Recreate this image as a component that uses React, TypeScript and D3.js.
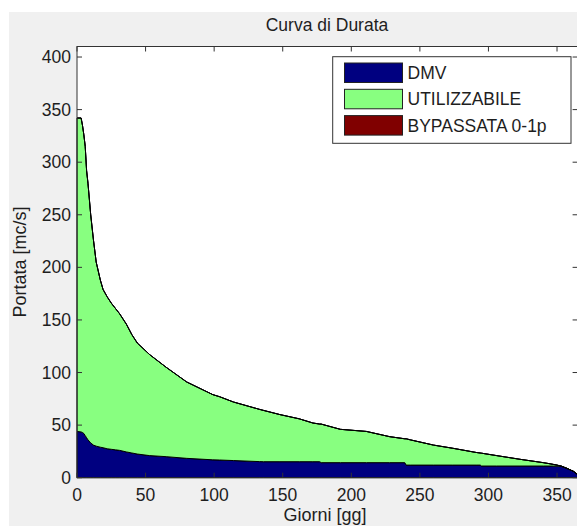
import React from 'react';
import * as d3 from 'd3';

// giorni della curva di durata
const giorni = [0, 3, 4, 5, 6, 7, 8, 10, 12, 14, 17, 19, 22, 25, 28, 31, 36, 40, 44, 53, 65, 80, 99, 104, 114, 133, 136, 148, 162, 172, 177, 178, 192, 211, 228, 239, 240, 243, 260, 274, 291, 294, 295, 306, 323, 340, 345, 350, 353, 357, 362, 365];

const dmv = [44, 43.5, 43, 42, 40, 38, 36, 33, 31, 30, 29, 28.5, 27.5, 27, 26.5, 26, 24.5, 23.5, 22.5, 21, 20, 18.4, 17, 16.8, 16.3, 15.3, 15.2, 15.2, 15.2, 15.2, 15.2, 14.3, 14.3, 14.3, 14.3, 14.3, 12, 12, 12, 12, 12, 12, 11.1, 11.1, 11.1, 11.1, 11.1, 11, 11, 9, 6, 3];

const utilizzabile = [298, 298.5, 292, 284, 275, 254, 244, 217, 195, 175, 159, 150.5, 144.5, 139, 134.5, 130, 121.5, 112.5, 105.5, 96, 85, 72.6, 62, 60.2, 55.7, 49.7, 48.8, 44.8, 40.8, 36.8, 35.8, 36.7, 31.7, 29.7, 24.7, 22.7, 25, 24, 19, 16, 12, 11.5, 12.2, 9.9, 6.4, 3.2, 2.1, 1, 0, 0, 0, 0];

const bypassata = giorni.map(() => 0);

const serie = ['DMV', 'UTILIZZABILE', 'BYPASSATA 0-1p'];
const colori = ['#000080', '#88ff80', '#800000'];

const xTicks = [0, 50, 100, 150, 200, 250, 300, 350];
const yTicks = [0, 50, 100, 150, 200, 250, 300, 350, 400];

const W = 577;
const H = 526;
const FONT = '"Liberation Sans", Arial, sans-serif';
const TXT = '#1e1e1e';
const AX = '#333';

export default function App() {
    const margin = { left: 77, top: 46.5, right: 577.6, bottom: 477.7 };

    const x = d3.scaleLinear().domain([0, 365]).range([margin.left, margin.right]);
    const y = d3.scaleLinear().domain([0, 410]).range([margin.bottom, margin.top]);

    const table = giorni.map((g, i) => ({
        giorno: g,
        'DMV': dmv[i],
        'UTILIZZABILE': utilizzabile[i],
        'BYPASSATA 0-1p': bypassata[i],
    }));

    const stacked = d3.stack<any>().keys(serie)(table);

    const area = d3.area<any>()
        .x(d => x(d.data.giorno))
        .y0(d => y(d[0]))
        .y1(d => y(d[1]));

    const tickLen = 5;

    return (
        <div style={{ position: 'absolute', left: 0, top: 0 }}>
            <svg width={W} height={H} style={{ display: 'block' }}>
                <rect x={0} y={0} width={W} height={H} fill="#fff" />
                <rect x={9} y={12} width={W - 9} height={H - 12} fill="#f0f0f0" />

                <rect x={margin.left} y={margin.top} width={margin.right - margin.left}
                    height={margin.bottom - margin.top} fill="#fff" />

                {stacked.map((s, i) => (
                    <path key={s.key} d={area(s) || ''} fill={colori[i]}
                        stroke="#000" strokeWidth={1} strokeLinejoin="round" />
                ))}

                {/* cornice assi */}
                <rect x={margin.left} y={margin.top} width={margin.right - margin.left}
                    height={margin.bottom - margin.top} fill="none" stroke={AX} strokeWidth={1} />

                {xTicks.map(t => (
                    <g key={'x' + t}>
                        <line x1={x(t)} x2={x(t)} y1={margin.bottom} y2={margin.bottom - tickLen} stroke={AX} />
                        <line x1={x(t)} x2={x(t)} y1={margin.top} y2={margin.top + tickLen} stroke={AX} />
                        <text x={x(t)} y={501} textAnchor="middle" fontFamily={FONT} fontSize={17.5} fill={TXT}>{t}</text>
                    </g>
                ))}

                {yTicks.map(t => (
                    <g key={'y' + t}>
                        <line x1={margin.left} x2={margin.left + tickLen} y1={y(t)} y2={y(t)} stroke={AX} />
                        <line x1={margin.right} x2={margin.right - tickLen} y1={y(t)} y2={y(t)} stroke={AX} />
                        <text x={71} y={y(t)} dy="0.35em" textAnchor="end" fontFamily={FONT} fontSize={17.5} fill={TXT}>{t}</text>
                    </g>
                ))}

                <text x={327} y={31} textAnchor="middle" fontFamily={FONT} fontSize={17.5} fill={TXT}>Curva di Durata</text>
                <text x={325} y={521} textAnchor="middle" fontFamily={FONT} fontSize={18} fill={TXT}>Giorni [gg]</text>
                <text transform={`translate(26, ${(margin.top + margin.bottom) / 2}) rotate(-90)`}
                    textAnchor="middle" fontFamily={FONT} fontSize={18} fill={TXT}>Portata [mc/s]</text>

                {/* legenda */}
                <g>
                    <rect x={332.7} y={56.7} width={238.3} height={86.6} fill="#fff" stroke={AX} strokeWidth={1} />
                    {serie.map((s, i) => (
                        <g key={s} transform={`translate(344.5, ${63 + i * 26.3})`}>
                            <rect x={0} y={0} width={58} height={19.5} fill={colori[i]} stroke="#222" strokeWidth={1} />
                            <text x={63} y={10} dy="0.35em" fontFamily={FONT} fontSize={17.5} fill={TXT}>{s}</text>
                        </g>
                    ))}
                </g>
            </svg>
        </div>
    );
}
